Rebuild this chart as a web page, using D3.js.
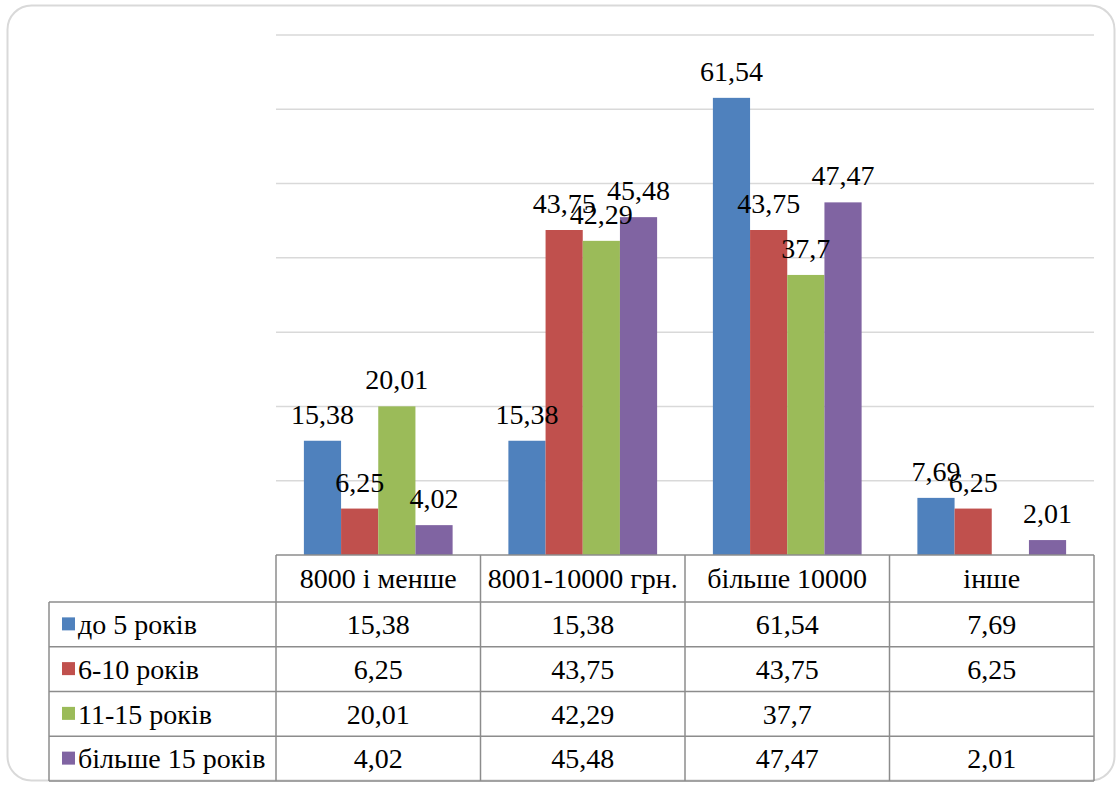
<!DOCTYPE html>
<html><head><meta charset="utf-8">
<script src="https://cdn.jsdelivr.net/npm/d3@7"></script>
</head><body style="margin:0">
<svg id="c" width="1118" height="787" font-family="Liberation Serif" style="font-family: 'Liberation Serif', Tinos, 'Times New Roman', serif"></svg>
<script>
const categories = ["8000 і менше", "8001-10000 грн.", "більше 10000", "інше"];
const seriesNames = ["до 5 років", "6-10 років", "11-15 років", "більше 15 років"];
const seriesColors = ["#4f81bd", "#c0504d", "#9bbb59", "#8064a2"];
const s1 = [15.38, 15.38, 61.54, 7.69];
const s2 = [6.25, 43.75, 43.75, 6.25];
const s3 = [20.01, 42.29, 37.7, null];
const s4 = [4.02, 45.48, 47.47, 2.01];
const seriesValues = [s1, s2, s3, s4];
const yTicks = [0, 10, 20, 30, 40, 50, 60, 70];

(function () {
const fmt = v => String(v).replace(".", ",");
const svg = d3.select("#c");
const FF = '"Liberation Serif", Tinos, "Times New Roman", serif';
const fs = 28;
const txt = sel => sel.attr("font-family", "Liberation Serif").style("font-family", FF)
  .attr("font-size", fs).attr("fill", "#000");

svg.append("rect").attr("x", 7.5).attr("y", 5.5).attr("width", 1107).attr("height", 775)
  .attr("rx", 24).attr("fill", "#fff").attr("stroke", "#d9d9d9").attr("stroke-width", 2);

const pLeft = 276, pRight = 1094, pBase = 555, pTop = 35;
const x0 = d3.scaleBand().domain(categories).range([pLeft, pRight]).paddingInner(0).paddingOuter(0);
const x1 = d3.scaleBand().domain(d3.range(4)).range([0, x0.bandwidth()]).paddingOuter(0.75).paddingInner(0);
const y = d3.scaleLinear().domain([0, 70]).range([pBase, pTop]);

svg.append("g").selectAll("line").data(yTicks.filter(t => t > 0)).join("line")
  .attr("x1", pLeft).attr("x2", pRight)
  .attr("y1", d => y(d)).attr("y2", d => y(d))
  .attr("stroke", "#d9d9d9").attr("stroke-width", 1.5);

const bars = [];
seriesValues.forEach((arr, si) => arr.forEach((v, ci) => {
  if (v != null) bars.push({ si, ci, v });
}));
svg.append("g").selectAll("rect").data(bars).join("rect")
  .attr("x", d => x0(categories[d.ci]) + x1(d.si))
  .attr("width", x1.bandwidth())
  .attr("y", d => y(d.v))
  .attr("height", d => y(0) - y(d.v))
  .attr("fill", d => seriesColors[d.si]);

svg.append("g").selectAll("text").data(bars).join("text")
  .attr("x", d => x0(categories[d.ci]) + x1(d.si) + x1.bandwidth() / 2)
  .attr("y", d => y(d.v) - 17)
  .attr("text-anchor", "middle")
  .call(txt)
  .text(d => fmt(d.v));

const tblLeft = 49, hdrTop = pBase, hdrBot = 602, rowH = 44.75;
const gridCol = "#8c8c8c";
const tg = svg.append("g");
tg.selectAll("text.h").data(categories).join("text").attr("class", "h")
  .attr("x", d => x0(d) + x0.bandwidth() / 2).attr("y", (hdrTop + hdrBot) / 2)
  .attr("dy", "0.35em").attr("text-anchor", "middle")
  .call(txt).text(d => d);
seriesNames.forEach((name, si) => {
  const ry = hdrBot + si * rowH;
  const cy = ry + rowH / 2;
  tg.append("rect").attr("x", 62).attr("y", cy - 7).attr("width", 13).attr("height", 13)
    .attr("fill", seriesColors[si]);
  tg.append("text").attr("x", 78).attr("y", cy).attr("dy", "0.35em")
    .call(txt).text(name);
  seriesValues[si].forEach((v, ci) => {
    if (v == null) return;
    tg.append("text").attr("x", x0(categories[ci]) + x0.bandwidth() / 2).attr("y", cy)
      .attr("dy", "0.35em").attr("text-anchor", "middle")
      .call(txt).text(fmt(v));
  });
});
const tBottom = hdrBot + 4 * rowH;
tg.append("line").attr("x1", pLeft).attr("x2", pRight).attr("y1", hdrTop).attr("y2", hdrTop)
  .attr("stroke", gridCol).attr("stroke-width", 1.5);
d3.range(5).forEach(i => {
  const yy = hdrBot + i * rowH;
  tg.append("line").attr("x1", tblLeft).attr("x2", pRight).attr("y1", yy).attr("y2", yy)
    .attr("stroke", gridCol).attr("stroke-width", 1.5);
});
tg.append("line").attr("x1", tblLeft).attr("x2", tblLeft).attr("y1", hdrBot).attr("y2", tBottom)
  .attr("stroke", gridCol).attr("stroke-width", 1.5);
categories.concat([null]).forEach(c => {
  const xx = c ? x0(c) : pRight;
  tg.append("line").attr("x1", xx).attr("x2", xx).attr("y1", hdrTop).attr("y2", tBottom)
    .attr("stroke", gridCol).attr("stroke-width", 1.5);
});
})();
</script>
</body></html>
